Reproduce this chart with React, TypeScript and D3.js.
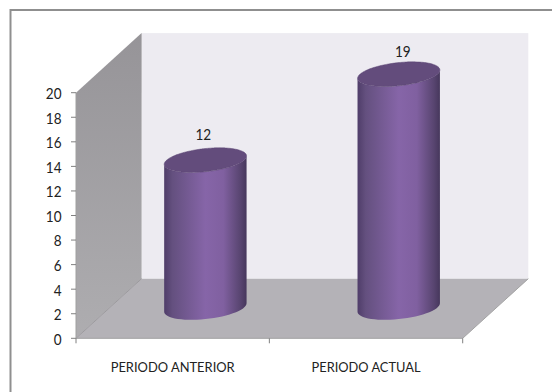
import React from "react";
import * as d3 from "d3";

const categories = ["PERIODO ANTERIOR", "PERIODO ACTUAL"];
const values = [12, 19];
const yTicks = [0, 2, 4, 6, 8, 10, 12, 14, 16, 18, 20];

const WIDTH = 552;
const HEIGHT = 392;
const FONT = "Lato, 'Open Sans', sans-serif";
const TEXT_COLOR = "#222";

// Oblique projection: front face of the plot box, then the depth offset to the back wall.
const front = { left: 76, right: 462.7, bottom: 338.3, top: 92.7 };
const depth = { dx: 65.6, dy: -59.6 };

const y = d3.scaleLinear().domain([0, 20]).range([front.bottom, front.top]);
const x = d3.scaleBand().domain(categories).range([front.left, front.right]);

// Cylinders stand mid-depth on the floor.
const baseOffset = { dx: 32.7, dy: -30.8 };
const radiusX = 41.2;
const radiusY = 11.6;
const tilt = 4.2;

// Per-bar nudges and squeezed widths for the narrow label lettering.
const valueLabelNudge = [
  { dx: -2, dy: -20 },
  { dx: 4, dy: -17 },
];
const categoryLabelWidths = [124, 109];
const digitWidth = 7.85;

const outline = d3.line<[number, number]>().curve(d3.curveCardinalClosed.tension(1));
const thetas = d3.range(0, 2 * Math.PI, Math.PI / 30);

const ellipse = (cx: number, cy: number) =>
  outline(
    thetas.map((t): [number, number] => [
      cx + radiusX * Math.cos(t),
      cy + radiusY * Math.sin(t) - tilt * Math.cos(t),
    ]),
  ) as string;

// Body: front half of the base ellipse joined to the front half of the top ellipse.
const body = (cx: number, top: number, base: number) => {
  const lower = d3.range(0, Math.PI + 0.001, Math.PI / 30).map(
    (t): [number, number] => [
      cx + radiusX * Math.cos(t),
      base + radiusY * Math.sin(t) - tilt * Math.cos(t),
    ],
  );
  const upper = d3.range(Math.PI, -0.001, -Math.PI / 30).map(
    (t): [number, number] => [
      cx + radiusX * Math.cos(t),
      top + radiusY * Math.sin(t) - tilt * Math.cos(t),
    ],
  );
  return d3.line()([...lower, ...upper]) + "Z";
};

const poly = (pts: [number, number][]) => d3.line()(pts) + "Z";

export default function App() {
  const backLeft = front.left + depth.dx;
  const backRight = front.right + depth.dx;
  const backBottom = front.bottom + depth.dy;
  const backTop = front.top + depth.dy;

  return (
    <svg
      width={WIDTH}
      height={HEIGHT}
      viewBox={`0 0 ${WIDTH} ${HEIGHT}`}
      style={{ position: "absolute", left: 0, top: 0, display: "block", background: "#fff" }}
      fontFamily={FONT}
    >
      <defs>
        <linearGradient id="cylinder" x1="0" x2="1" y1="0" y2="0">
          <stop offset="0" stopColor="#4f3d69" />
          <stop offset="0.1" stopColor="#64507f" />
          <stop offset="0.5" stopColor="#8665a8" />
          <stop offset="0.72" stopColor="#8060a0" />
          <stop offset="0.93" stopColor="#57446f" />
          <stop offset="1" stopColor="#46375c" />
        </linearGradient>
        <linearGradient id="sideWall" x1="0" x2="0" y1="0" y2="1">
          <stop offset="0" stopColor="#969498" />
          <stop offset="1" stopColor="#aeadb0" />
        </linearGradient>
      </defs>

      {/* Chart frame: only the top and left edges are visible */}
      <path d="M10.5 392V10H552" fill="none" stroke="#8f8f8f" strokeWidth={2} />

      {/* Back wall, side wall and floor */}
      <rect
        x={backLeft}
        y={backTop}
        width={backRight - backLeft}
        height={backBottom - backTop}
        fill="#edebf1"
      />
      <path
        d={poly([
          [front.left, front.top],
          [backLeft, backTop],
          [backLeft, backBottom],
          [front.left, front.bottom],
        ])}
        fill="url(#sideWall)"
      />
      <path
        d={poly([
          [front.left, front.bottom],
          [backLeft, backBottom],
          [backRight, backBottom],
          [front.right, front.bottom],
        ])}
        fill="#b4b2b7"
      />
      <path
        d={`M${front.right} ${front.bottom}L${backRight} ${backBottom}`}
        stroke="#a3a3a3"
        fill="none"
      />
      <path
        d={`M${front.left} ${front.bottom}L${backLeft} ${backBottom}`}
        stroke="#9c9a9e"
        fill="none"
      />

      {/* Axes */}
      <path
        d={`M${front.left} ${front.top}V${front.bottom}H${front.right}`}
        fill="none"
        stroke="#a0a0a0"
        strokeWidth={1}
      />
      {yTicks.map((t) => (
        <g key={t}>
          <line x1={front.left - 5} x2={front.left} y1={y(t)} y2={y(t)} stroke="#808080" />
          <text
            x={61.5}
            y={y(t) + 6.4}
            textAnchor="end"
            fontSize={15}
            fill={TEXT_COLOR}
            textLength={String(t).length * digitWidth}
            lengthAdjust="spacingAndGlyphs"
          >
            {t}
          </text>
        </g>
      ))}
      {[front.left, front.left + x.step(), front.right].map((px) => (
        <line key={px} x1={px} x2={px} y1={front.bottom} y2={front.bottom + 5} stroke="#808080" />
      ))}

      {/* Cylinders with their value labels and category names */}
      {categories.map((c, i) => {
        const cx = (x(c) as number) + x.bandwidth() / 2 + baseOffset.dx;
        const base = y(0) + baseOffset.dy;
        const top = y(values[i]) + baseOffset.dy;
        return (
          <g key={c}>
            <path d={body(cx, top, base)} fill="url(#cylinder)" />
            <path d={ellipse(cx, top)} fill="#634c7c" stroke="#5a4573" strokeWidth={0.5} />
            <text
              x={cx + valueLabelNudge[i].dx}
              y={top + valueLabelNudge[i].dy}
              textAnchor="middle"
              fontSize={15}
              fill={TEXT_COLOR}
              textLength={String(values[i]).length * digitWidth}
              lengthAdjust="spacingAndGlyphs"
            >
              {values[i]}
            </text>
            <text
              x={(x(c) as number) + x.bandwidth() / 2}
              y={372}
              textAnchor="middle"
              fontSize={14}
              fill={TEXT_COLOR}
              textLength={categoryLabelWidths[i]}
              lengthAdjust="spacingAndGlyphs"
            >
              {c}
            </text>
          </g>
        );
      })}
    </svg>
  );
}
